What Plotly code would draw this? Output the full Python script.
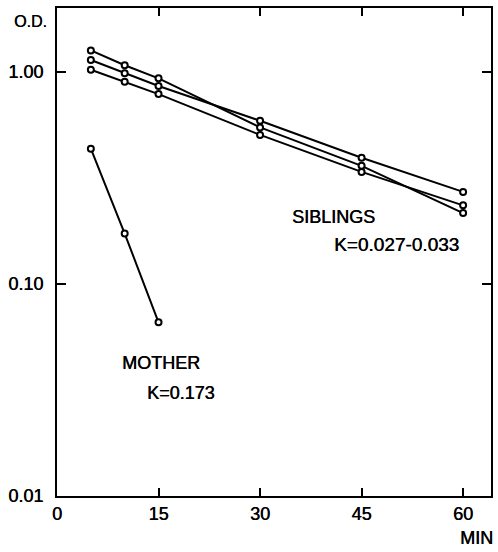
import plotly.graph_objects as go

# ---- data ----
time_sib = [5, 10, 15, 30, 45, 60]
sib_a = [1.265, 1.076, 0.934, 0.548, 0.361, 0.216]
sib_b = [1.139, 0.986, 0.859, 0.589, 0.394, 0.272]
sib_c = [1.025, 0.900, 0.787, 0.505, 0.338, 0.235]

time_mother = [5, 10, 15]
mother = [0.435, 0.173, 0.066]

x_ticks = [0, 15, 30, 45, 60]
y_ticks = [0.01, 0.1, 1.0]
y_tick_labels = ["0.01", "0.10", "1.00"]

FONT = "Liberation Sans, Arial, sans-serif"
INK = "#000000"
SHADOW = "0.4px 0 0 #000"


def f(size):
    return dict(family=FONT, size=size, color=INK, shadow=SHADOW)


marker_style = dict(symbol="circle", size=6, color="white",
                    line=dict(color=INK, width=2))

fig = go.Figure()
for ys in (sib_a, sib_b, sib_c):
    fig.add_trace(go.Scatter(
        x=time_sib, y=ys, mode="lines+markers",
        line=dict(color=INK, width=2), marker=marker_style,
        showlegend=False, hoverinfo="x+y"))
fig.add_trace(go.Scatter(
    x=time_mother, y=mother, mode="lines+markers",
    line=dict(color=INK, width=2), marker=marker_style,
    showlegend=False, hoverinfo="x+y"))

fig.add_annotation(x=9.26, y=-1.371, text="MOTHER", showarrow=False,
                   xanchor="left", yanchor="middle", font=f(18))
fig.add_annotation(x=13.0, y=-1.516, text="K=0.173", showarrow=False,
                   xanchor="left", yanchor="middle", font=f(18))
fig.add_annotation(x=34.4, y=-0.6825, text="SIBLINGS", showarrow=False,
                   xanchor="left", yanchor="middle", font=f(18))
fig.add_annotation(x=40.6, y=-0.8127, text="K=0.027-0.033", showarrow=False,
                   xanchor="left", yanchor="middle", font=f(19))

fig.add_annotation(x=-0.1032, y=0.973, xref="paper", yref="paper", text="O.D.",
                   showarrow=False, xanchor="left", yanchor="middle", font=f(16))
fig.add_annotation(x=1.009, y=-0.086, xref="paper", yref="paper", text="MIN",
                   showarrow=False, xanchor="right", yanchor="middle", font=f(18))

fig.update_layout(
    width=498, height=552,
    margin=dict(l=57, r=5, t=8, b=56),
    paper_bgcolor="white", plot_bgcolor="white",
    font=dict(family=FONT, size=18, color=INK),
    xaxis=dict(range=[0, 64.12], tickvals=x_ticks, ticks="inside", ticklen=8,
               tickwidth=2, tickcolor=INK, showline=True, linewidth=2,
               linecolor=INK, mirror="ticks", showgrid=False, zeroline=False,
               ticklabelstandoff=0, tickfont=f(18)),
    yaxis=dict(type="log", range=[-2, 0.302], tickvals=y_ticks,
               ticktext=y_tick_labels, ticks="inside", ticklen=9,
               tickwidth=2, tickcolor=INK, showline=True, linewidth=2,
               linecolor=INK, mirror="ticks", showgrid=False, zeroline=False,
               ticklabelstandoff=8, tickfont=f(18)),
)

fig.write_html(
    "out.html",
    config={"displayModeBar": False},
    post_script="document.body.style.margin='0';document.body.style.overflow='hidden';",
)
